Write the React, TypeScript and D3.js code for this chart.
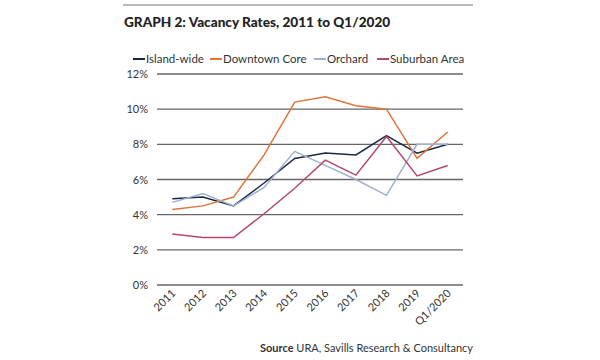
import { useEffect, useRef } from "react";
import * as d3 from "d3";

const years = ["2011", "2012", "2013", "2014", "2015", "2016", "2017", "2018", "2019", "Q1/2020"];
const islandWide = [4.9, 5.0, 4.5, 5.8, 7.2, 7.5, 7.4, 8.5, 7.5, 8.0];
const downtownCore = [4.3, 4.5, 5.0, 7.4, 10.4, 10.7, 10.2, 10.0, 7.2, 8.7];
const orchard = [4.7, 5.2, 4.5, 5.55, 7.6, 6.8, 6.0, 5.1, 8.0, 8.0];
const suburbanArea = [2.9, 2.7, 2.7, 4.05, 5.5, 7.1, 6.25, 8.45, 6.2, 6.8];
const yTicks = [0, 2, 4, 6, 8, 10, 12];

const series = [
  { name: "Island-wide", values: islandWide, color: "#1c2740" },
  { name: "Downtown Core", values: downtownCore, color: "#e0733a" },
  { name: "Orchard", values: orchard, color: "#9fb0cf" },
  { name: "Suburban Area", values: suburbanArea, color: "#b4466f" },
];

const FONT = "Lato, 'Open Sans', sans-serif";

export default function App() {
  const svgRef = useRef<SVGSVGElement>(null);

  useEffect(() => {
    const svg = d3.select(svgRef.current);
    svg.selectAll("*").remove();

    const width = 600, height = 360;
    const left = 157, right = 463, top = 74, bottom = 285;

    svg.append("rect").attr("width", width).attr("height", height).attr("fill", "#fff");

    // top rule
    svg.append("line").attr("x1", 123).attr("x2", 473).attr("y1", 5).attr("y2", 5)
      .attr("stroke", "#777").attr("stroke-width", 1);

    svg.append("text").attr("x", 124).attr("y", 27)
      .style("font-family", FONT).style("font-size", "13.6px").style("font-weight", "900")
      .attr("fill", "#222").text("GRAPH 2: Vacancy Rates, 2011 to Q1/2020");

    const x = d3.scalePoint().domain(years).range([left, right]).padding(0.5);
    const y = d3.scaleLinear().domain([0, 12]).range([bottom, top]);

    // gridlines
    svg.append("g").selectAll("line").data(yTicks).enter().append("line")
      .attr("x1", left).attr("x2", right)
      .attr("y1", d => y(d)).attr("y2", d => y(d))
      .attr("stroke", "#666").attr("stroke-width", 1.3);

    svg.append("g").selectAll("text").data(yTicks).enter().append("text")
      .attr("x", 148).attr("y", d => y(d) + 4).attr("text-anchor", "end")
      .style("font-family", FONT).style("font-size", "11px").attr("fill", "#333")
      .text(d => `${d}%`);

    svg.append("g").selectAll("text").data(years).enter().append("text")
      .attr("transform", d => `translate(${(x(d) as number) + 4},${bottom + 9}) rotate(-45)`)
      .attr("text-anchor", "end")
      .style("font-family", FONT).style("font-size", "11px").attr("fill", "#333")
      .text(d => d);

    const line = d3.line<number>().x((_, i) => x(years[i]) as number).y(d => y(d));
    svg.append("g").selectAll("path").data(series).enter().append("path")
      .attr("d", d => line(d.values))
      .attr("fill", "none").attr("stroke", d => d.color).attr("stroke-width", 1.5)
      .attr("stroke-linejoin", "miter");

    // legend
    const legendX = [133, 210, 314, 377];
    const lg = svg.append("g").selectAll("g").data(series).enter().append("g")
      .attr("transform", (_, i) => `translate(${legendX[i]},59)`);
    lg.append("line").attr("x1", 0).attr("x2", 12).attr("y1", 0).attr("y2", 0)
      .attr("stroke", d => d.color).attr("stroke-width", 2);
    lg.append("text").attr("x", 13).attr("y", 4)
      .style("font-family", FONT).style("font-size", "11.5px").attr("fill", "#333")
      .text(d => d.name);

    const src = svg.append("text").attr("x", 473).attr("y", 352).attr("text-anchor", "end")
      .style("font-family", FONT).style("font-size", "11px").attr("fill", "#333");
    src.append("tspan").style("font-weight", "bold").text("Source");
    src.append("tspan").text(" URA, Savills Research & Consultancy");
  }, []);

  return <svg ref={svgRef} width={600} height={360} style={{ display: "block", position: "absolute", left: 0, top: 0 }} />;
}
